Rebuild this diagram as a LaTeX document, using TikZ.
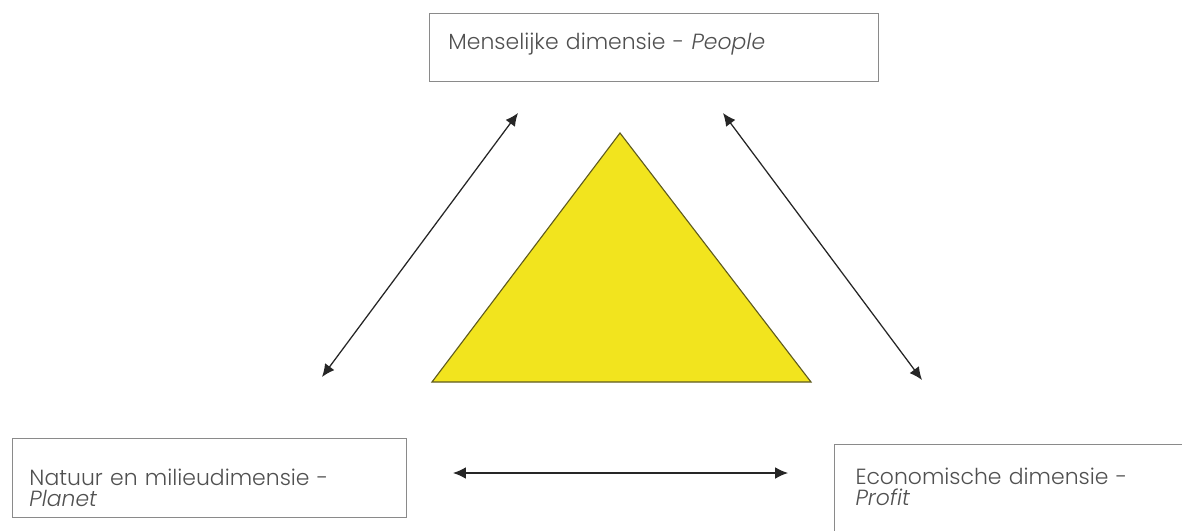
\documentclass[tikz,border=0pt]{standalone}
\usepackage{fontspec}
\setmainfont{Poppins}[UprightFont=* Light, ItalicFont=* Light Italic]
\usetikzlibrary{arrows.meta}
\definecolor{boxgray}{HTML}{8A8A8A}
\definecolor{txtgray}{HTML}{505050}
\definecolor{triyellow}{HTML}{F2E41E}
\definecolor{triedge}{HTML}{5F5B1E}
\tikzset{
  dimbox/.style={draw=boxgray, line width=0.7pt, anchor=north west,
    inner ysep=0pt, align=left, text=txtgray,
    font=\fontsize{15.6}{15}\selectfont},
  link/.style={line width=0.9pt, draw=black!85, <->}
}
\begin{document}
\begin{tikzpicture}[x=0.25mm, y=-0.25mm, >={Latex[length=3.2mm,width=2.9mm]}]
  \clip (0,0) rectangle (1182,531);

  % the three dimensions
  \node[dimbox, inner xsep=4.75mm, text width=102.75mm,
    text height=9mm, text depth=8mm] (people) at (429,13)
    {Menselijke dimensie - \textit{People}};
  \node[dimbox, inner xsep=4.25mm, text width=90mm,
    text height=11.75mm, text depth=8mm] (planet) at (12,438)
    {Natuur en milieudimensie -\\ \textit{Planet}};
  \node[dimbox, inner xsep=5.25mm, text width=89.5mm,
    text height=10mm, text depth=25mm] (profit) at (834,444)
    {Economische dimensie -\\ \textit{Profit}};

  % triangle
  \coordinate (top) at (620,133);
  \coordinate (left) at (432,382);
  \coordinate (right) at (811,382);
  \filldraw[fill=triyellow, draw=triedge, line width=0.8pt] (top) -- (left) -- (right) -- cycle;

  % arrow ends
  \coordinate (pl) at (322,377);
  \coordinate (pe1) at (518,113);
  \coordinate (pe2) at (723,113);
  \coordinate (pr) at (922,380);
  \coordinate (h1) at (453,473);
  \coordinate (h2) at (788,473);

  \draw[link] (pl) -- (pe1);
  \draw[link] (pe2) -- (pr);
  \draw[link] (h1) -- (h2);
\end{tikzpicture}
\end{document}
